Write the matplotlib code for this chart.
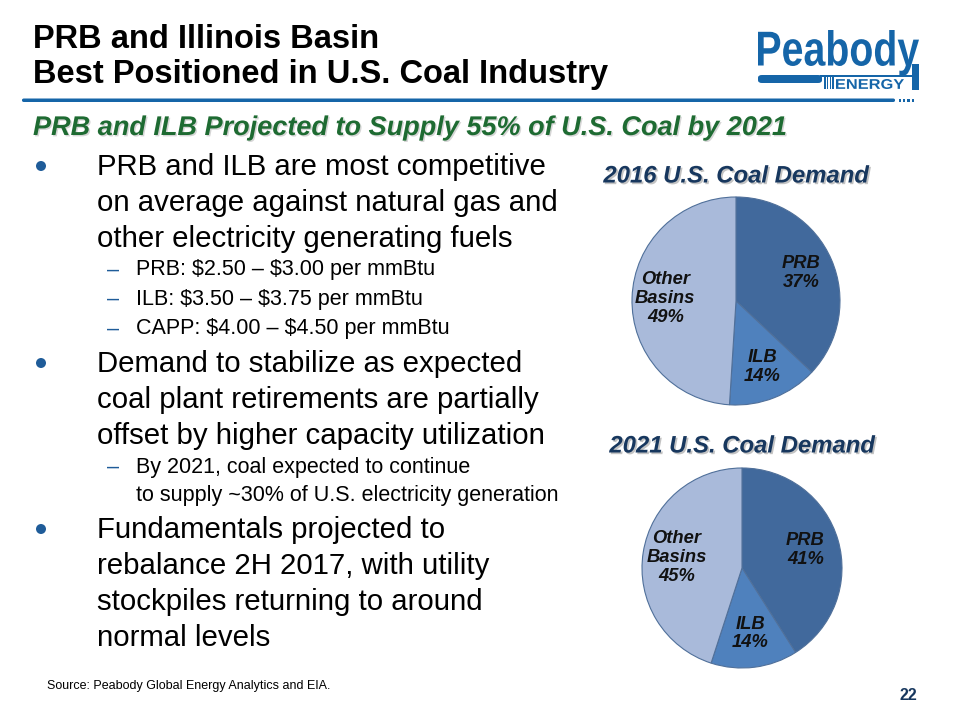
import matplotlib
matplotlib.use("Agg")
import matplotlib.pyplot as plt
import matplotlib.patheffects as pe
from matplotlib.patches import Rectangle, FancyBboxPatch, PathPatch, Ellipse
from matplotlib.textpath import TextPath
from matplotlib.font_manager import FontProperties
from matplotlib.transforms import Affine2D

plt.rcParams['font.family'] = ['Liberation Sans', 'DejaVu Sans']

# ---- data ----
categories = ["PRB", "ILB", "Other\nBasins"]
demand_2016 = [37, 14, 49]
demand_2021 = [41, 14, 45]
pie_titles = ["2016 U.S. Coal Demand", "2021 U.S. Coal Demand"]
slice_colors = ["#41699C", "#4F81BD", "#A9BADA"]

title_lines = ["PRB and Illinois Basin", "Best Positioned in U.S. Coal Industry"]
subtitle = "PRB and ILB Projected to Supply 55% of U.S. Coal by 2021"
bullets = [
    ("main", ["PRB and ILB are most competitive",
              "on average against natural gas and",
              "other electricity generating fuels"]),
    ("sub", ["PRB: $2.50 \u2013 $3.00 per mmBtu"]),
    ("sub", ["ILB: $3.50 \u2013 $3.75 per mmBtu"]),
    ("sub", ["CAPP: $4.00 \u2013 $4.50 per mmBtu"]),
    ("main", ["Demand to stabilize as expected",
              "coal plant retirements are partially",
              "offset by higher capacity utilization"]),
    ("sub", ["By 2021, coal expected to continue",
             "to supply ~30% of U.S. electricity generation"]),
    ("main", ["Fundamentals projected to",
              "rebalance 2H 2017, with utility",
              "stockpiles returning to around",
              "normal levels"]),
]
source = "Source: Peabody Global Energy Analytics and EIA."
page_no = "22"

W, H = 960, 720
fig = plt.figure(figsize=(9.6, 7.2), dpi=100)
fig.patch.set_facecolor("white")

def fx(x):
    return x / W

def fy(y):
    return 1 - y / H

BLUE = "#1565A8"

# ---- title ----
fig.text(fx(33), fy(40), title_lines[0], fontsize=23.5, fontweight="bold",
         color="black", va="center", ha="left")
fig.text(fx(33), fy(74), title_lines[1], fontsize=23.5, fontweight="bold",
         color="black", va="center", ha="left")

# ---- header bar ----
fig.patches.append(FancyBboxPatch((fx(22), fy(102)), fx(873), 3.5 / H,
                                  boxstyle="round,pad=0,rounding_size=0.002",
                                  transform=fig.transFigure, color=BLUE, lw=0))
for i in range(4):
    fig.patches.append(Rectangle((fx(899 + i * 4.2), fy(102)), 2.2 / W, 3.5 / H,
                                 transform=fig.transFigure, color=BLUE, lw=0))

# ---- logo ----
def fit_text(s, x0, top, x1, base, ref=None, weight="bold", color=BLUE):
    """Place text s so that its width spans x0..x1 and the reference string's
    glyph extents (no descender) span top..base (pixel coords, y down)."""
    fp = FontProperties(family="Liberation Sans", weight=weight)
    tp = TextPath((0, 0), s, size=10, prop=fp)
    bb = tp.get_extents()
    rb = TextPath((0, 0), ref if ref else s, size=10, prop=fp).get_extents()
    sx = (x1 - x0) / bb.width
    sy = (base - top) / rb.height
    tr = (Affine2D().translate(-bb.x0, -rb.y0)
          .scale(sx / W, sy / H).translate(fx(x0), fy(base)))
    fig.patches.append(PathPatch(tr.transform_path(tp), transform=fig.transFigure,
                                 color=color, lw=0))

fit_text("Peabody", 758, 30, 919, 66, ref="Peabod")
# right leg of the y descender
fig.patches.append(Rectangle((fx(912), fy(90)), 7 / W, 26 / H,
                             transform=fig.transFigure, color=BLUE, lw=0))
# thick bar under the word
fig.patches.append(FancyBboxPatch((fx(758), fy(83)), fx(64), 8 / H,
                                  boxstyle="round,pad=0,rounding_size=0.004",
                                  transform=fig.transFigure, color=BLUE, lw=0))
# thin top line to the right of the thick bar
fig.patches.append(Rectangle((fx(820), fy(77)), fx(95), 2 / H,
                             transform=fig.transFigure, color=BLUE, lw=0))
for i in range(4):
    fig.patches.append(Rectangle((fx(824 + i * 2.8), fy(89)), 1.6 / W, 12 / H,
                                 transform=fig.transFigure, color=BLUE, lw=0))
fit_text("ENERGY", 836, 79, 904, 89)

# ---- subtitle ----
fig.text(fx(33), fy(128), subtitle, fontsize=19.5, fontweight="bold", fontstyle="italic",
         color="#1E6B32", va="center", ha="left",
         path_effects=[pe.SimplePatchShadow(offset=(1, -1), shadow_rgbFace="#999999", alpha=0.4),
                       pe.Normal()])

# ---- bullets ----
main_gap = 36
y = 167
prev = None
rows = []
for kind, lines in bullets:
    if prev is not None:
        if kind == "main":
            y += 35 if prev == "sub" else main_gap
        else:
            y += 31 if prev == "main" else 29.5
    for j, line in enumerate(lines):
        if j > 0:
            y += main_gap if kind == "main" else 28
        rows.append((kind, j, line, y))
    prev = kind

for kind, j, line, yy in rows:
    if kind == "main":
        fig.text(fx(97), fy(yy), line, fontsize=21.2, color="black", va="center", ha="left",
                 parse_math=False)
        if j == 0:
            fig.patches.append(Ellipse((fx(41), fy(yy - 1)), 10 / W, 10 / H,
                                       transform=fig.transFigure, color="#1F5C99", lw=0))
    else:
        fig.text(fx(136), fy(yy), line, fontsize=15.5, color="black", va="center", ha="left",
                 parse_math=False)
        if j == 0:
            fig.text(fx(107), fy(yy), "\u2013", fontsize=15.5, color="#1F5C99",
                     va="center", ha="left")

# ---- pies ----
def draw_pie(values, cx, cy, r, title, ty, ld):
    ax = fig.add_axes([fx(cx - r), fy(cy + r), 2 * r / W, 2 * r / H])
    labels = [f"{c}\n{v}%" for c, v in zip(categories, values)]
    wedges, texts = ax.pie(values, colors=slice_colors, startangle=90, counterclock=False,
                           labels=labels, labeldistance=ld,
                           wedgeprops=dict(edgecolor="#50709A", linewidth=0.8),
                           textprops=dict(fontsize=13.2, fontweight="bold", fontstyle="italic",
                                          color="#111111", ha="center", va="center",
                                          linespacing=1.15))
    for t in texts:
        t.set_ha("center")
        t.set_va("center")
    ax.set_xlim(-1.0, 1.0)
    ax.set_ylim(-1.0, 1.0)
    ax.set_aspect("equal")
    ax.axis("off")
    fig.text(fx(cx), fy(ty), title, fontsize=17.2, fontweight="bold", fontstyle="italic",
             color="#17375E", ha="center", va="center",
             path_effects=[pe.SimplePatchShadow(offset=(1.2, -1.2), shadow_rgbFace="#888888",
                                                alpha=0.5), pe.Normal()])
    return texts

draw_pie(demand_2016, 736, 301, 104, pie_titles[0], 176, 0.68)
draw_pie(demand_2021, 742, 568, 100, pie_titles[1], 446, 0.66)

# ---- footer ----
fig.text(fx(47), fy(686), source, fontsize=9, color="black", va="center", ha="left")
fig.text(fx(917), fy(696), page_no, fontsize=11.5, fontweight="bold", color="#17375E",
         va="center", ha="right")

fig.savefig("out.png", dpi=100, facecolor="white")
